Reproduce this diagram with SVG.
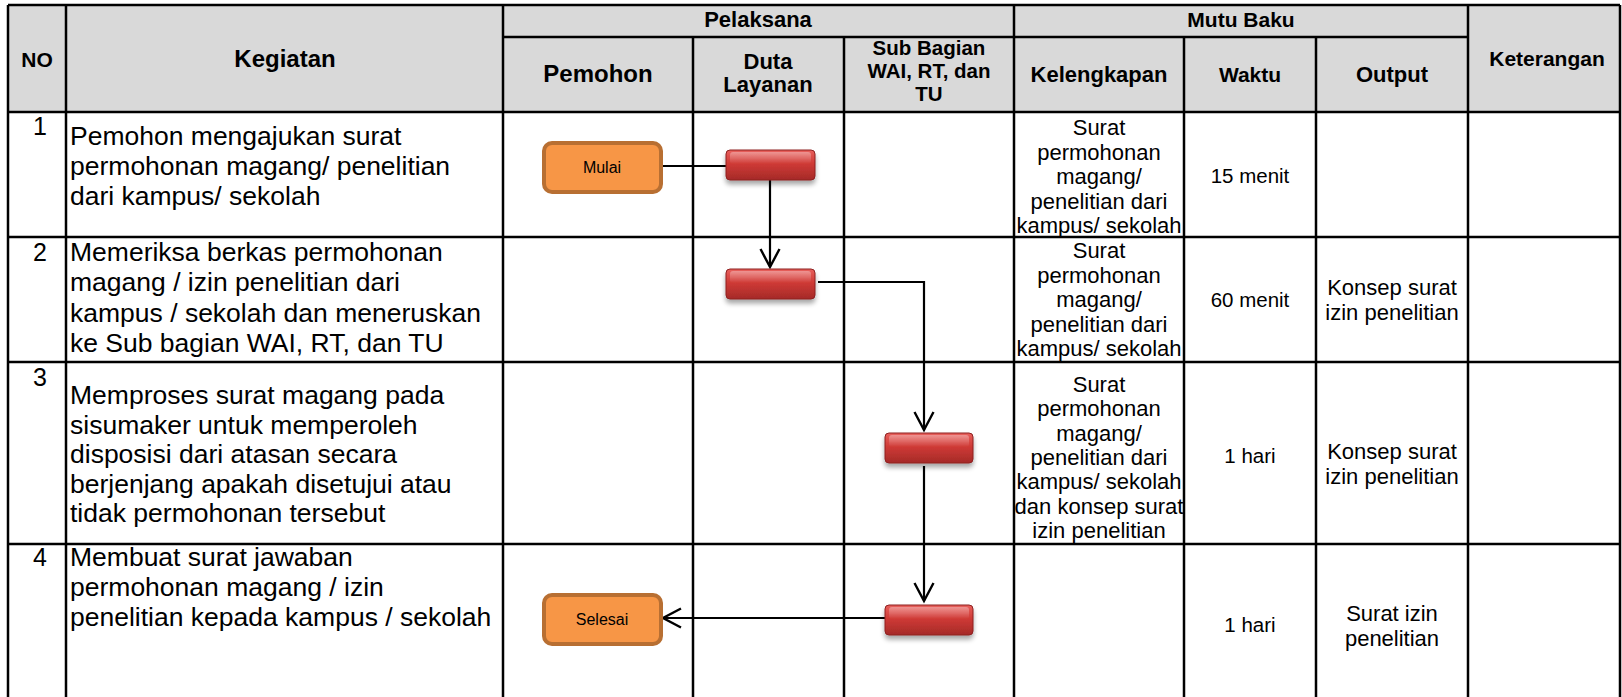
<svg xmlns="http://www.w3.org/2000/svg" width="1622" height="697" viewBox="0 0 1622 697">
<style>
  text { font-family: "Liberation Sans", Arial, sans-serif; fill: #000; }
  .hd { font-size: 22px; font-weight: bold; text-anchor: middle; }
  .body { font-size: 26.5px; }
  .num { font-size: 25px; text-anchor: middle; }
  .cell { font-size: 22px; text-anchor: middle; }
  .wk { font-size: 20.5px; text-anchor: middle; }
  .out { font-size: 22px; text-anchor: middle; }
  .lbl { font-size: 16px; text-anchor: middle; }
  .grid { stroke: #000; stroke-width: 2.5; fill: none; }
  .term { fill: #F79646; stroke: #B86F32; stroke-width: 4; }
  .proc { fill: url(#redGrad); stroke: #8E2020; stroke-width: 1; filter: url(#shadow); }
  .hl { fill: url(#hiGrad); stroke: none; }
  .conn { stroke: #000; stroke-width: 2.2; fill: none; }
</style>
<defs>
  <linearGradient id="redGrad" x1="0" y1="0" x2="0" y2="1">
    <stop offset="0" stop-color="#E8605C"/>
    <stop offset="0.45" stop-color="#CF3A36"/>
    <stop offset="1" stop-color="#A52A28"/>
  </linearGradient>
  <linearGradient id="hiGrad" x1="0" y1="0" x2="0" y2="1">
    <stop offset="0" stop-color="#FFFFFF" stop-opacity="0.35"/>
    <stop offset="1" stop-color="#FFFFFF" stop-opacity="0"/>
  </linearGradient>
  <filter id="shadow" x="-20%" y="-30%" width="140%" height="190%">
    <feGaussianBlur in="SourceAlpha" stdDeviation="2.5"/>
    <feOffset dx="0" dy="4" result="b"/>
    <feComponentTransfer><feFuncA type="linear" slope="0.35"/></feComponentTransfer>
    <feMerge><feMergeNode/><feMergeNode in="SourceGraphic"/></feMerge>
  </filter>
  <marker id="arrow" markerUnits="userSpaceOnUse" markerWidth="24" markerHeight="24" refX="20" refY="11" orient="auto">
    <path d="M2,1.5 L20,11 L2,20.5" fill="none" stroke="#000" stroke-width="2.4"/>
  </marker>
</defs>

<!-- table background -->
<rect x="8" y="5" width="1612" height="107" fill="#D9D9D9"/>
<rect x="8" y="112" width="1612" height="585" fill="#FFFFFF"/>

<!-- grid -->
<g id="grid" class="grid">
  <line x1="8" y1="5" x2="1620" y2="5"/>
  <line x1="503" y1="37" x2="1468" y2="37"/>
  <line x1="8" y1="112" x2="1620" y2="112"/>
  <line x1="8" y1="237" x2="1620" y2="237"/>
  <line x1="8" y1="362" x2="1620" y2="362"/>
  <line x1="8" y1="544" x2="1620" y2="544"/>
  <line x1="8" y1="5" x2="8" y2="697"/>
  <line x1="66" y1="5" x2="66" y2="697"/>
  <line x1="503" y1="5" x2="503" y2="697"/>
  <line x1="693" y1="37" x2="693" y2="697"/>
  <line x1="844" y1="37" x2="844" y2="697"/>
  <line x1="1014" y1="5" x2="1014" y2="697"/>
  <line x1="1184" y1="37" x2="1184" y2="697"/>
  <line x1="1316" y1="37" x2="1316" y2="697"/>
  <line x1="1468" y1="5" x2="1468" y2="697"/>
  <line x1="1620" y1="5" x2="1620" y2="697"/>
</g>

<!-- header texts -->
<g id="header">
  <text class="hd" x="37" y="67" style="font-size:21px">NO</text>
  <text class="hd" x="285" y="67" style="font-size:24px">Kegiatan</text>
  <text class="hd" x="758" y="27">Pelaksana</text>
  <text class="hd" x="1241" y="27" style="font-size:21px">Mutu Baku</text>
  <text class="hd" x="1547" y="66" style="font-size:21px">Keterangan</text>
  <text class="hd" x="598" y="82" style="font-size:24px">Pemohon</text>
  <text class="hd" x="768" y="69">Duta</text>
  <text class="hd" x="768" y="92">Layanan</text>
  <text class="hd" x="929" y="55" style="font-size:20.5px">Sub Bagian</text>
  <text class="hd" x="929" y="78" style="font-size:20.5px">WAI, RT, dan</text>
  <text class="hd" x="929" y="101" style="font-size:20.5px">TU</text>
  <text class="hd" x="1099" y="82">Kelengkapan</text>
  <text class="hd" x="1250" y="82" style="font-size:21px">Waktu</text>
  <text class="hd" x="1392" y="82">Output</text>
</g>

<!-- row texts -->
<g id="row1">
  <text class="num" x="40" y="135">1</text>
  <text class="body" x="70" y="145">Pemohon mengajukan surat</text>
  <text class="body" x="70" y="175">permohonan magang/ penelitian</text>
  <text class="body" x="70" y="205">dari kampus/ sekolah</text>
  <text class="cell" x="1099" y="135">Surat</text>
  <text class="cell" x="1099" y="159.5">permohonan</text>
  <text class="cell" x="1099" y="184">magang/</text>
  <text class="cell" x="1099" y="208.5">penelitian dari</text>
  <text class="cell" x="1099" y="233">kampus/ sekolah</text>
  <text class="wk" x="1250" y="183">15 menit</text>
</g>
<g id="row2">
  <text class="num" x="40" y="261">2</text>
  <text class="body" x="70" y="261">Memeriksa berkas permohonan</text>
  <text class="body" x="70" y="291">magang / izin penelitian dari</text>
  <text class="body" x="70" y="321.5">kampus / sekolah dan meneruskan</text>
  <text class="body" x="70" y="352">ke Sub bagian WAI, RT, dan TU</text>
  <text class="cell" x="1099" y="258">Surat</text>
  <text class="cell" x="1099" y="282.5">permohonan</text>
  <text class="cell" x="1099" y="307">magang/</text>
  <text class="cell" x="1099" y="331.5">penelitian dari</text>
  <text class="cell" x="1099" y="356">kampus/ sekolah</text>
  <text class="wk" x="1250" y="307">60 menit</text>
  <text class="out" x="1392" y="295">Konsep surat</text>
  <text class="out" x="1392" y="320">izin penelitian</text>
</g>
<g id="row3">
  <text class="num" x="40" y="386">3</text>
  <text class="body" x="70" y="404">Memproses surat magang pada</text>
  <text class="body" x="70" y="433.5">sisumaker untuk memperoleh</text>
  <text class="body" x="70" y="463">disposisi dari atasan secara</text>
  <text class="body" x="70" y="492.5">berjenjang apakah disetujui atau</text>
  <text class="body" x="70" y="522">tidak permohonan tersebut</text>
  <text class="cell" x="1099" y="392">Surat</text>
  <text class="cell" x="1099" y="416.3">permohonan</text>
  <text class="cell" x="1099" y="440.6">magang/</text>
  <text class="cell" x="1099" y="465">penelitian dari</text>
  <text class="cell" x="1099" y="489.3">kampus/ sekolah</text>
  <text class="cell" x="1099" y="513.6">dan konsep surat</text>
  <text class="cell" x="1099" y="538">izin penelitian</text>
  <text class="wk" x="1250" y="463">1 hari</text>
  <text class="out" x="1392" y="459">Konsep surat</text>
  <text class="out" x="1392" y="484">izin penelitian</text>
</g>
<g id="row4">
  <text class="num" x="40" y="566">4</text>
  <text class="body" x="70" y="566">Membuat surat jawaban</text>
  <text class="body" x="70" y="596">permohonan magang / izin</text>
  <text class="body" x="70" y="626">penelitian kepada kampus / sekolah</text>
  <text class="wk" x="1250" y="632">1 hari</text>
  <text class="out" x="1392" y="621">Surat izin</text>
  <text class="out" x="1392" y="646">penelitian</text>
</g>

<!-- connectors -->
<g id="connectors">
  <line class="conn" x1="662" y1="166" x2="726" y2="166"/>
  <polyline class="conn" points="770,180 770,267" marker-end="url(#arrow)"/>
  <polyline class="conn" points="818,282 924,282 924,430" marker-end="url(#arrow)"/>
  <polyline class="conn" points="924,466 924,601" marker-end="url(#arrow)"/>
  <polyline class="conn" points="885,618 663,618" marker-end="url(#arrow)"/>
</g>

<!-- nodes -->
<g id="mulai">
  <rect class="term" x="544" y="143" width="117" height="49" rx="8"/>
  <text class="lbl" x="602" y="173">Mulai</text>
</g>
<g id="proc1">
  <rect class="proc" x="726" y="150" width="89" height="30" rx="4"/>
  <rect class="hl" x="730" y="152" width="81" height="12" rx="3"/>
</g>
<g id="proc2">
  <rect class="proc" x="726" y="269" width="89" height="30" rx="4"/>
  <rect class="hl" x="730" y="271" width="81" height="12" rx="3"/>
</g>
<g id="proc3">
  <rect class="proc" x="885" y="433" width="88" height="30" rx="4"/>
  <rect class="hl" x="889" y="435" width="80" height="12" rx="3"/>
</g>
<g id="proc4">
  <rect class="proc" x="885" y="605" width="88" height="30" rx="4"/>
  <rect class="hl" x="889" y="607" width="80" height="12" rx="3"/>
</g>
<g id="selesai">
  <rect class="term" x="544" y="595" width="117" height="49" rx="8"/>
  <text class="lbl" x="602" y="625">Selesai</text>
</g>
</svg>
